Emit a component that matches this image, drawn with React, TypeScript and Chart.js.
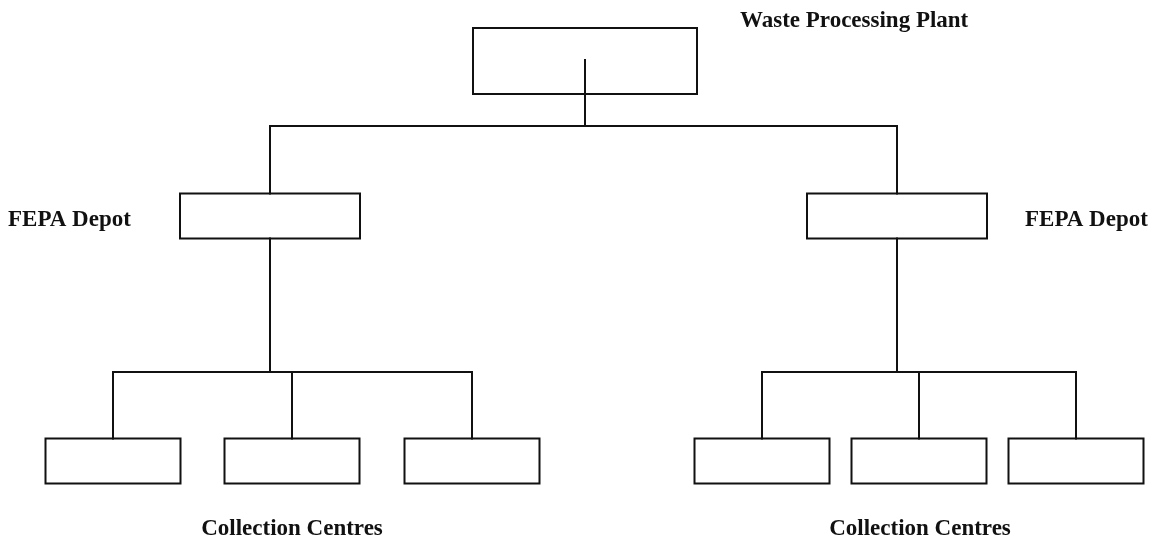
import React, { useEffect, useRef } from "react";
import { Chart, registerables } from "chart.js";

Chart.register(...registerables);

// Node boxes: centre x, width, top y, bottom y (diagram units)
const topBoxX = [585];
const topBoxWidth = 224;
const topBoxY = [28, 94];

const depotBoxX = [270, 897];
const depotBoxWidth = 180;
const depotBoxY = [193.5, 238.5];

const centreBoxX = [113, 292, 472, 762, 919, 1076];
const centreBoxWidth = 135;
const centreBoxY = [438.5, 483.5];

// connector levels
const topStemStart = 60;
const busTopY = 126;
const busCentreY = 372;
const centresPerDepot = 3;

// labels: text, x, baseline y, alignment
const labelTexts = ["Waste Processing Plant", "FEPA Depot", "FEPA Depot", "Collection Centres", "Collection Centres"];
const labelX = [740, 8, 1025, 292, 920];
const labelY = [27, 226, 226, 535, 535];
const labelAlign: CanvasTextAlign[] = ["left", "left", "left", "center", "center"];

const INK = "#111111";

type Pt = { x: number; y: number };

function boxPath(cx: number, w: number, y: number[]): Pt[] {
  const x1 = cx - w / 2;
  const x2 = cx + w / 2;
  return [
    { x: x1, y: y[0] },
    { x: x2, y: y[0] },
    { x: x2, y: y[1] },
    { x: x1, y: y[1] },
    { x: x1, y: y[0] },
  ];
}

function buildPaths(): Pt[][] {
  const paths: Pt[][] = [];
  topBoxX.forEach((cx) => paths.push(boxPath(cx, topBoxWidth, topBoxY)));
  depotBoxX.forEach((cx) => paths.push(boxPath(cx, depotBoxWidth, depotBoxY)));
  centreBoxX.forEach((cx) => paths.push(boxPath(cx, centreBoxWidth, centreBoxY)));

  // stem from top box down to bus
  paths.push([
    { x: topBoxX[0], y: topStemStart },
    { x: topBoxX[0], y: busTopY },
  ]);
  // top bus and drops to depots
  paths.push([
    { x: depotBoxX[0], y: depotBoxY[0] },
    { x: depotBoxX[0], y: busTopY },
    { x: depotBoxX[1], y: busTopY },
    { x: depotBoxX[1], y: depotBoxY[0] },
  ]);
  // depots to centres
  depotBoxX.forEach((dx, i) => {
    const kids = centreBoxX.slice(i * centresPerDepot, (i + 1) * centresPerDepot);
    paths.push([
      { x: dx, y: depotBoxY[1] },
      { x: dx, y: busCentreY },
    ]);
    paths.push([
      { x: kids[0], y: centreBoxY[0] },
      { x: kids[0], y: busCentreY },
      { x: kids[kids.length - 1], y: busCentreY },
      { x: kids[kids.length - 1], y: centreBoxY[0] },
    ]);
    kids.slice(1, -1).forEach((kx) => {
      paths.push([
        { x: kx, y: busCentreY },
        { x: kx, y: centreBoxY[0] },
      ]);
    });
  });
  return paths;
}

const labelPlugin = {
  id: "treeLabels",
  afterDatasetsDraw(chart: any) {
    const { ctx, scales } = chart;
    ctx.save();
    ctx.fillStyle = INK;
    ctx.font = "bold 23px 'Liberation Serif', 'Times New Roman', serif";
    ctx.textBaseline = "alphabetic";
    labelTexts.forEach((t, i) => {
      ctx.textAlign = labelAlign[i];
      ctx.fillText(t, scales.x.getPixelForValue(labelX[i]), scales.y.getPixelForValue(labelY[i]));
    });
    ctx.restore();
  },
};

export default function App() {
  const ref = useRef<HTMLCanvasElement | null>(null);
  useEffect(() => {
    if (!ref.current) return;
    const datasets = buildPaths().map((p) => ({
      data: p,
      showLine: true,
      borderColor: INK,
      borderWidth: 2,
      pointRadius: 0,
      pointHoverRadius: 0,
      fill: false,
      tension: 0,
      borderJoinStyle: "miter" as const,
      borderCapStyle: "square" as const,
      clip: false as any,
    }));
    const chart = new Chart(ref.current, {
      type: "scatter",
      data: { datasets },
      options: {
        animation: false,
        responsive: false,
        devicePixelRatio: 1,
        layout: { padding: 0 },
        events: [],
        plugins: { legend: { display: false }, tooltip: { enabled: false } },
        scales: {
          x: { type: "linear", min: 0, max: 1156, display: false },
          y: { type: "linear", min: 0, max: 539, reverse: true, display: false },
        },
      },
      plugins: [labelPlugin],
    });
    return () => chart.destroy();
  }, []);
  return (
    <div style={{ position: "fixed", left: 0, top: 0, width: 1156, height: 539, background: "#fff" }}>
      <canvas ref={ref} width={1156} height={539} style={{ display: "block", width: 1156, height: 539 }} />
    </div>
  );
}
